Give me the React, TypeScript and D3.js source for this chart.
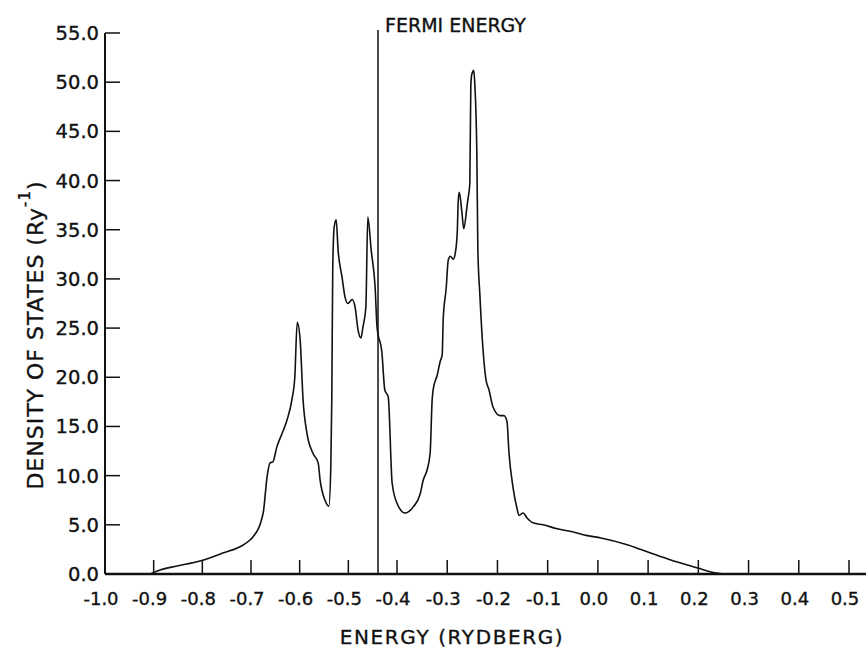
import * as d3 from 'd3';

const WIDTH = 868;
const HEIGHT = 650;

// energy (Ry) and density of states (per Ry)
const energy = [
  -0.907, -0.887, -0.852, -0.805, -0.758, -0.716, -0.702, -0.696, -0.675, -0.667,
  -0.661, -0.655, -0.647, -0.636, -0.626, -0.616, -0.61, -0.605, -0.599, -0.593,
  -0.585, -0.573, -0.562, -0.558, -0.548, -0.54, -0.536, -0.534, -0.532, -0.529,
  -0.525, -0.521, -0.513, -0.507, -0.501, -0.492, -0.486, -0.48, -0.474, -0.47,
  -0.464, -0.46, -0.453, -0.445, -0.441, -0.431, -0.425, -0.418, -0.41, -0.4,
  -0.384, -0.368, -0.354, -0.348, -0.34, -0.334, -0.33, -0.328, -0.32, -0.314,
  -0.31, -0.308, -0.302, -0.298, -0.294, -0.288, -0.284, -0.28, -0.278, -0.276,
  -0.271, -0.267, -0.261, -0.259, -0.255, -0.253, -0.251, -0.247, -0.245, -0.241,
  -0.239, -0.235, -0.229, -0.223, -0.217, -0.209, -0.195, -0.187, -0.181, -0.177,
  -0.169, -0.161, -0.157, -0.149, -0.141, -0.129, -0.109, -0.081, -0.049, -0.021,
  0.006, 0.06, 0.105, 0.145, 0.199, 0.225, 0.251,
];
const dos = [
  0.0, 0.41, 0.81, 1.32, 2.13, 2.95, 3.46, 3.76, 6.2, 9.86,
  11.3, 11.4, 12.9, 14.3, 15.65, 17.7, 20.0, 25.6, 23.8, 17.7,
  14.3, 12.3, 11.3, 9.55, 7.5, 6.9, 10.9, 17.7, 31.2, 35.3,
  36.0, 32.9, 30.2, 28.2, 27.5, 27.9, 27.1, 24.8, 24.0, 25.1,
  27.1, 36.3, 32.9, 29.2, 25.1, 22.5, 18.7, 18.0, 9.25, 7.2,
  6.2, 6.8, 8.1, 9.5, 10.6, 12.3, 17.7, 18.75, 20.2, 21.6,
  22.3, 25.9, 29.1, 31.9, 32.3, 32.0, 32.6, 34.8, 38.0, 38.8,
  36.9, 35.1, 37.2, 38.0, 39.7, 49.7, 50.8, 51.2, 49.7, 42.6,
  33.0, 28.4, 23.0, 19.8, 18.75, 17.0, 16.1, 16.1, 15.5, 12.3,
  8.8, 6.65, 5.95, 6.2, 5.7, 5.2, 5.0, 4.6, 4.27, 3.9,
  3.66, 2.95, 2.13, 1.42, 0.61, 0.2, 0.0,
];

const xTicks = [-1.0, -0.9, -0.8, -0.7, -0.6, -0.5, -0.4, -0.3, -0.2, -0.1, 0.0, 0.1, 0.2, 0.3, 0.4, 0.5];
const xTickLabels = ['-1.0', '-0.9', '-0.8', '-0.7', '-0.6', '-0.5', '-0.4', '-0.3', '-0.2', '-0.1', '0.0', '0.1', '0.2', '0.3', '0.4', '0.5'];
const yTicks = [0, 5, 10, 15, 20, 25, 30, 35, 40, 45, 50, 55];
const yTickLabels = ['0.0', '5.0', '10.0', '15.0', '20.0', '25.0', '30.0', '35.0', '40.0', '45.0', '50.0', '55.0'];
const fermiEnergy = -0.439;

const FONT = '"DejaVu Sans", sans-serif';
const INK = '#111';
// lettering in the scan is a bit heavier than the regular face
const textInk = { fill: INK, stroke: INK, strokeWidth: 0.35 };

const App = () => {
  // the scanned axis is slightly stretched on the right, so two linear pieces
  const xScale = d3.scaleLinear().domain([-1.0, -0.4, 0.5]).range([105, 397, 849]);
  const yScale = d3.scaleLinear().domain([0, 55]).range([574, 33]);

  const points = energy.map((e, i) => [e, dos[i]] as [number, number]);
  const lineBuilder = d3
    .line<[number, number]>()
    .x((d) => xScale(d[0]))
    .y((d) => yScale(d[1]))
    .curve(d3.curveMonotoneX);
  const linePath = lineBuilder(points) || '';

  const x0 = xScale(-1.0);
  const y0 = yScale(0);
  const fx = xScale(fermiEnergy);

  return (
    <svg
      width={WIDTH}
      height={HEIGHT}
      style={{ position: 'absolute', left: 0, top: 0, background: '#fff' }}
    >
      {/* axes */}
      <line x1={x0} x2={866} y1={y0} y2={y0} stroke={INK} strokeWidth={2.5} />
      <line x1={x0} x2={x0} y1={yScale(55)} y2={y0} stroke={INK} strokeWidth={2} />

      {xTicks.map((t, i) => (
        <g key={'x' + i}>
          {i > 0 && (
            <line x1={xScale(t)} x2={xScale(t)} y1={y0} y2={y0 - 14} stroke={INK} strokeWidth={1.5} />
          )}
          <text
            x={xScale(t) - 4}
            y={605}
            textAnchor="middle"
            fontFamily={FONT}
            fontSize={18}
            {...textInk}
          >
            {xTickLabels[i]}
          </text>
        </g>
      ))}

      {yTicks.map((t, i) => (
        <g key={'y' + i}>
          {i > 0 && (
            <line x1={x0} x2={x0 + 15} y1={yScale(t)} y2={yScale(t)} stroke={INK} strokeWidth={1.5} />
          )}
          <text
            x={99}
            y={yScale(t) + 7}
            textAnchor="end"
            fontFamily={FONT}
            fontSize={19.5}
            {...textInk}
          >
            {yTickLabels[i]}
          </text>
        </g>
      ))}

      {/* Fermi level */}
      <line x1={fx} x2={fx} y1={30} y2={y0} stroke={INK} strokeWidth={1.5} />
      <text x={385} y={32} fontFamily={FONT} fontSize={19} {...textInk}>
        FERMI ENERGY
      </text>

      {/* density of states */}
      <path d={linePath} fill="none" stroke={INK} strokeWidth={1.6} strokeLinejoin="round" />

      {/* axis titles */}
      <text
        x={452}
        y={644}
        textAnchor="middle"
        fontFamily={FONT}
        fontSize={20}
        letterSpacing={1.6}
        {...textInk}
      >
        ENERGY (RYDBERG)
      </text>
      <text
        transform="translate(43,335) rotate(-90)"
        textAnchor="middle"
        fontFamily={FONT}
        fontSize={22}
        letterSpacing={1}
        {...textInk}
      >
        DENSITY OF STATES (Ry
        <tspan fontSize={15} dy={-13}>
          -1
        </tspan>
        <tspan dy={13}>)</tspan>
      </text>
    </svg>
  );
};

export default App;
